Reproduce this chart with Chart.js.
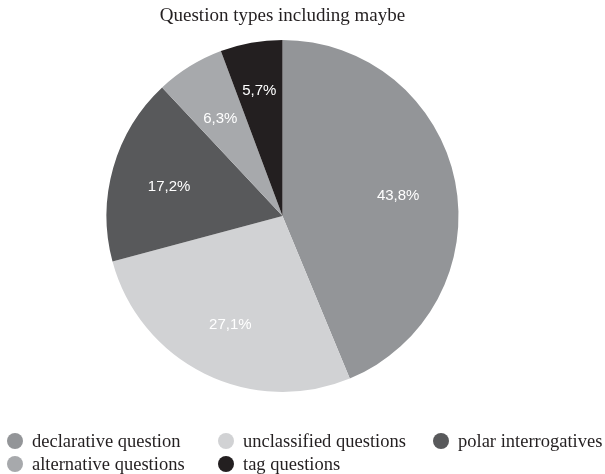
<!DOCTYPE html>
<html>
<head>
<meta charset="utf-8">
<script src="https://cdn.jsdelivr.net/npm/chart.js@4/dist/chart.umd.min.js"></script>
<style>
  html, body { margin: 0; padding: 0; background: #fff; }
  #wrap { position: relative; width: 605px; height: 474px; }
  #legend {
    position: absolute; left: 7px; top: 431px;
    display: grid; grid-template-columns: 211px 215px auto;
    row-gap: 2.5px;
    font-family: "Liberation Serif", "Times New Roman", serif;
    font-size: 18.5px; color: #231f20; line-height: 20px;
  }
  #legend .item { display: flex; align-items: center; white-space: nowrap; }
  #legend .dot { width: 16px; height: 16px; border-radius: 50%; margin-right: 9px; flex: none; }
</style>
</head>
<body>
<div id="wrap">
  <canvas id="pie" width="605" height="474"></canvas>
  <div id="legend"></div>
</div>
<script>
var categories = ['declarative question', 'unclassified questions', 'polar interrogatives', 'alternative questions', 'tag questions'];
var shares = [43.8, 27.1, 17.2, 6.3, 5.7];
var sliceColors = ['#939598', '#d1d2d4', '#58595b', '#a7a9ac', '#231f20'];

// white percentage text inside each slice
var sliceLabels = {
  id: 'sliceLabels',
  afterDatasetsDraw: function(chart) {
    var ctx = chart.ctx;
    var arcs = chart.getDatasetMeta(0).data;
    ctx.save();
    ctx.fillStyle = '#ffffff';
    ctx.font = '15px "Liberation Sans", Arial, sans-serif';
    ctx.textAlign = 'center';
    ctx.textBaseline = 'middle';
    arcs.forEach(function(arc, i) {
      var mid = (arc.startAngle + arc.endAngle) / 2;
      var f = shares[i] < 6 ? 0.74 : 0.67;
      var px = arc.x + Math.cos(mid) * arc.outerRadius * f;
      var py = arc.y + Math.sin(mid) * arc.outerRadius * f + 3;
      ctx.fillText(shares[i].toFixed(1).replace('.', ',') + '%', px, py);
    });
    ctx.restore();
  }
};

var ctx = document.getElementById('pie').getContext('2d');
new Chart(ctx, {
  type: 'pie',
  data: {
    labels: categories,
    datasets: [{
      data: shares,
      backgroundColor: sliceColors,
      borderWidth: 0
    }]
  },
  options: {
    responsive: false,
    animation: false,
    radius: 176,
    layout: { padding: { top: 0, bottom: 82, left: 0, right: 40 } },
    plugins: {
      legend: { display: false },
      tooltip: { enabled: false },
      title: {
        display: true,
        text: 'Question types including maybe',
        color: '#231f20',
        font: { family: '"Liberation Serif", "Times New Roman", serif', size: 19, weight: 'normal', lineHeight: 1.2 },
        padding: { top: 5, bottom: 12 }
      }
    }
  },
  plugins: [sliceLabels]
});

var legend = document.getElementById('legend');
categories.forEach(function(name, i) {
  var item = document.createElement('div');
  item.className = 'item';
  var dot = document.createElement('span');
  dot.className = 'dot';
  dot.style.background = sliceColors[i];
  item.appendChild(dot);
  item.appendChild(document.createTextNode(name));
  legend.appendChild(item);
});
</script>
</body>
</html>
